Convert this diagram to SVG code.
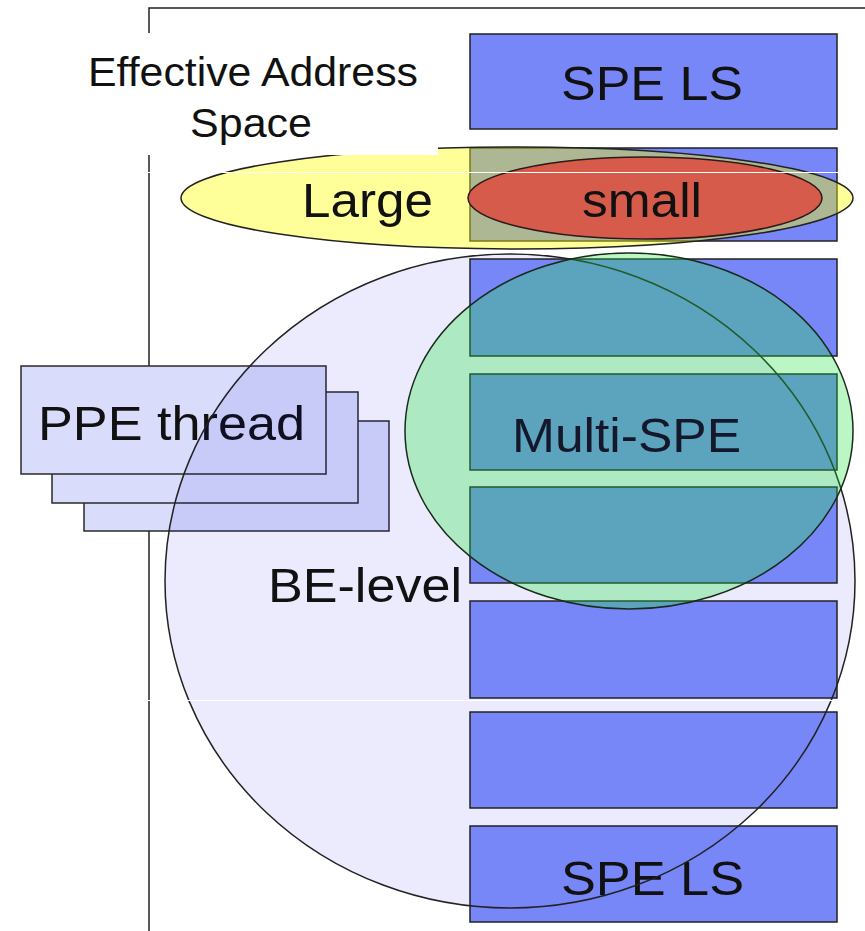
<svg xmlns="http://www.w3.org/2000/svg" width="865" height="931" viewBox="0 0 865 931">
<style>
text{font-family:"Liberation Sans",Arial,sans-serif;fill:#111;}
.big{font-size:49px;}
.hdr{font-size:40px;}
.ls{fill:#7787f7;stroke:#222;stroke-width:1.5;}
.ppe{fill:#d9dcfa;stroke:#2a2a2a;stroke-width:1.5;}
.edge{fill:none;stroke:#222;stroke-width:1.5;}
</style>
<rect width="865" height="931" fill="#fff"/>
<g id="frame" fill="none" stroke="#222" stroke-width="1.5">
<path d="M149,931 V8 H865"/>
</g>
<g id="ppe-threads">
<rect class="ppe" x="84" y="421" width="305" height="110"/>
<rect class="ppe" x="52" y="392" width="306" height="111"/>
<rect class="ppe" x="21" y="366" width="305" height="108"/>
<text class="big" x="38" y="440" textLength="267" lengthAdjust="spacingAndGlyphs">PPE thread</text>
</g>
<g id="be-level-fill">
<ellipse cx="510" cy="581" rx="345" ry="327" fill="#0000e6" fill-opacity="0.08"/>
</g>
<g id="spe-ls">
<rect class="ls" x="470" y="34" width="367" height="95"/>
<rect class="ls" x="470" y="148" width="367" height="93"/>
<rect class="ls" x="470" y="259" width="367" height="97"/>
<rect class="ls" x="470" y="374" width="367" height="96"/>
<rect class="ls" x="470" y="487" width="367" height="96"/>
<rect class="ls" x="470" y="601" width="367" height="97"/>
<rect class="ls" x="470" y="712" width="367" height="96"/>
<rect class="ls" x="470" y="826" width="367" height="96"/>
<text class="big" x="561" y="100" textLength="182" lengthAdjust="spacingAndGlyphs">SPE LS</text>
<text class="big" x="561" y="895" textLength="183" lengthAdjust="spacingAndGlyphs">SPE LS</text>
</g>
<g id="be-level">
<ellipse class="edge" cx="510" cy="581" rx="345" ry="327"/>
<text class="big" x="268" y="602" textLength="194" lengthAdjust="spacingAndGlyphs">BE-level</text>
</g>
<g id="multi-spe">
<ellipse cx="629" cy="431" rx="224" ry="178" fill="#1ee63c" fill-opacity="0.3" stroke="#1a2a1a" stroke-width="1.5"/>
<text class="big" x="512" y="452" textLength="229" lengthAdjust="spacingAndGlyphs" style="fill:#15182a">Multi-SPE</text>
</g>
<g id="large">
<ellipse cx="517" cy="198" rx="336" ry="51" fill="#ffff00" fill-opacity="0.4" stroke="#222" stroke-width="1.5"/>
<text class="big" x="302" y="217" textLength="131" lengthAdjust="spacingAndGlyphs">Large</text>
</g>
<g id="small">
<ellipse cx="645" cy="198" rx="177" ry="41" fill="#d75b4b" stroke="#2a1a1a" stroke-width="1.5"/>
<text class="big" x="582" y="217" textLength="120" lengthAdjust="spacingAndGlyphs">small</text>
</g>
<g id="title">
<rect x="60" y="33" width="378" height="122" fill="#fff"/>
<text class="hdr" x="88" y="86" textLength="330" lengthAdjust="spacingAndGlyphs">Effective Address</text>
<text class="hdr" x="190" y="137" textLength="122" lengthAdjust="spacingAndGlyphs">Space</text>
</g>
<g id="artifacts" stroke="#fff" stroke-width="1">
<path d="M0,172.5 H848"/>
<path d="M147,700.5 H860"/>
</g>
</svg>
